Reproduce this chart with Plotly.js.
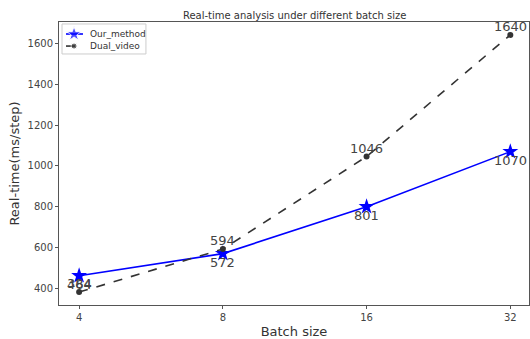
<!DOCTYPE html>
<html>
<head>
<meta charset="utf-8">
<script src="https://cdn.plot.ly/plotly-3.0.1.min.js"></script>
<style>html,body{margin:0;padding:0;background:#fff;}#chart{width:530px;height:339px;}</style>
</head>
<body>
<div id="chart"></div>
<script>
const batchSizes = ["4", "8", "16", "32"];
const ourMethod = [464, 572, 801, 1070];
const dualVideo = [384, 594, 1046, 1640];
const seriesNames = ["Our_method", "Dual_video"];
const yTicks = [400, 600, 800, 1000, 1200, 1400, 1600];

const font = "DejaVu Sans, sans-serif";
const styles = [
  {line: {color: "#0000ff", width: 1.6}, marker: {symbol: "star", size: 12, color: "#0000ff"}},
  {line: {color: "#333333", width: 1.6, dash: "dash"}, marker: {symbol: "circle", size: 6, color: "#333333"}}
];
const seriesValues = [ourMethod, dualVideo];

const traces = seriesValues.map((vals, k) => ({
  x: batchSizes, y: vals, name: seriesNames[k], type: "scatter",
  mode: "lines+markers", line: styles[k].line, marker: styles[k].marker, showlegend: false
}));

// compact matplotlib-style legend drawn on a hidden overlay axis (0..1 in plot-area units)
const legRows = [0.9576, 0.915];
const legX = [0.0149, 0.032, 0.051];
seriesNames.forEach((n, k) => {
  traces.push({
    x: legX, y: [legRows[k], legRows[k], legRows[k]], xaxis: "x2", yaxis: "y2",
    type: "scatter", mode: "lines+markers", showlegend: false, hoverinfo: "skip",
    line: styles[k].line,
    marker: Object.assign({}, styles[k].marker, {size: [0, k === 0 ? 11 : 6, 0]})
  });
});

function labels(vals, anchor) {
  return vals.map((v, i) => ({
    x: i, y: v, xref: "x", yref: "y", text: String(v), showarrow: false,
    xanchor: "center", yanchor: anchor, borderpad: 0,
    font: {family: font, size: 13, color: "#444"}
  }));
}
const legendText = seriesNames.map((n, k) => ({
  x: 0.0638, y: legRows[k], xref: "paper", yref: "paper", text: n, showarrow: false,
  xanchor: "left", yanchor: "middle", borderpad: 0,
  font: {family: font, size: 9, color: "#333"}
}));

const layout = {
  width: 530, height: 339,
  margin: {l: 59, r: 1, t: 22, b: 34},
  paper_bgcolor: "#fff", plot_bgcolor: "#fff",
  font: {family: font, color: "#444"},
  title: {text: "Real-time analysis under different batch size", font: {family: font, size: 10, color: "#333"},
          x: 0.556, xanchor: "center", y: 0.955, yanchor: "middle", yref: "container"},
  showlegend: false,
  shapes: [{type: "rect", xref: "paper", yref: "paper", x0: 0.0064, x1: 0.185, y0: 0.887, y1: 0.993,
            line: {color: "#cccccc", width: 1}, fillcolor: "rgba(255,255,255,0.9)", layer: "below"}],
  annotations: labels(ourMethod, "top").concat(labels(dualVideo, "bottom"), legendText),
  xaxis: {
    type: "category", range: [-0.14, 3.13],
    showgrid: false, zeroline: false,
    showline: true, linecolor: "#555", linewidth: 1, mirror: true,
    ticks: "outside", ticklen: 3, tickcolor: "#555",
    tickfont: {family: font, size: 10, color: "#444"},
    title: {text: "Batch size", font: {family: font, size: 13, color: "#333"}, standoff: 6}
  },
  yaxis: {
    range: [321, 1703], tickvals: yTicks,
    showgrid: false, zeroline: false,
    showline: true, linecolor: "#555", linewidth: 1, mirror: true,
    ticks: "outside", ticklen: 3, tickcolor: "#555",
    tickfont: {family: font, size: 10, color: "#444"},
    title: {text: "Real-time(ms/step)", font: {family: font, size: 13, color: "#333"}, standoff: 4}
  },
  xaxis2: {overlaying: "x", anchor: "y2", range: [0, 1], visible: false, fixedrange: true},
  yaxis2: {overlaying: "y", anchor: "x2", range: [0, 1], visible: false, fixedrange: true}
};
Plotly.newPlot("chart", traces, layout, {displayModeBar: false, staticPlot: true});
</script>
</body>
</html>
